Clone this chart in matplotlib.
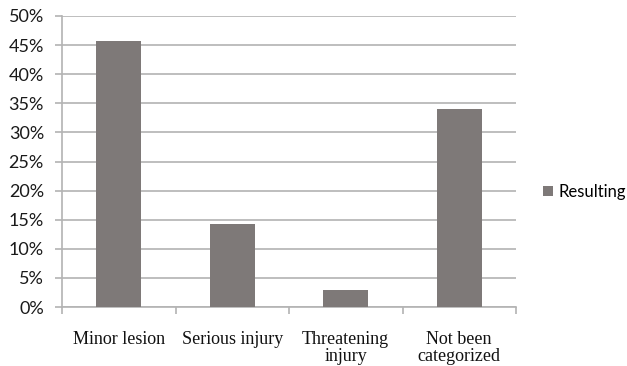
import matplotlib.pyplot as plt
from matplotlib.ticker import PercentFormatter, FixedLocator, NullFormatter

categories = ["Minor lesion", "Serious injury", "Threatening\ninjury", "Not been\ncategorized"]
resulting = [45.7, 14.3, 3.0, 34.0]
yticks = [0, 5, 10, 15, 20, 25, 30, 35, 40, 45, 50]

bar_color = "#7e7978"
grid_color = "#b3b3b3"

fig = plt.figure(figsize=(6.27, 3.66), dpi=100)
ax = fig.add_axes([62 / 627, 1 - 307 / 366, (516 - 62) / 627, (307 - 16) / 366])

x = list(range(len(categories)))
ax.bar(x, resulting, width=0.4, color=bar_color, label="Resulting", zorder=3)

ax.set_xlim(-0.5, len(categories) - 0.5)
ax.set_ylim(0, 50)
ax.set_yticks(yticks)
ax.yaxis.set_major_formatter(PercentFormatter(decimals=0))
ax.grid(axis="y", color=grid_color, linewidth=1.2, zorder=0)

for side in ["top", "right"]:
    ax.spines[side].set_visible(False)
for side in ["left", "bottom"]:
    ax.spines[side].set_color(grid_color)
    ax.spines[side].set_linewidth(1.2)

ax.tick_params(axis="y", length=5, color=grid_color, width=1.2, pad=8,
               labelsize=13, labelcolor="#1a1a1a")
for lbl in ax.get_yticklabels():
    lbl.set_family("Lato")

# category labels centred, ticks at boundaries
ax.set_xticks(x)
ax.set_xticklabels(categories, family="Liberation Serif", fontsize=13,
                   color="#111111", linespacing=1.05)
ax.tick_params(axis="x", length=0, pad=17)
ax.xaxis.set_minor_locator(FixedLocator([i - 0.5 for i in range(len(categories) + 1)]))
ax.xaxis.set_minor_formatter(NullFormatter())
ax.tick_params(axis="x", which="minor", length=5, color=grid_color, width=1.2)

leg = fig.legend(loc="center left", bbox_to_anchor=(543 / 627, 1 - 192 / 366),
                 frameon=False, borderpad=0, borderaxespad=0,
                 handlelength=0.6, handleheight=0.6, handletextpad=0.35,
                 prop={"family": "Lato", "size": 12})

fig.savefig("out.png", dpi=100)
